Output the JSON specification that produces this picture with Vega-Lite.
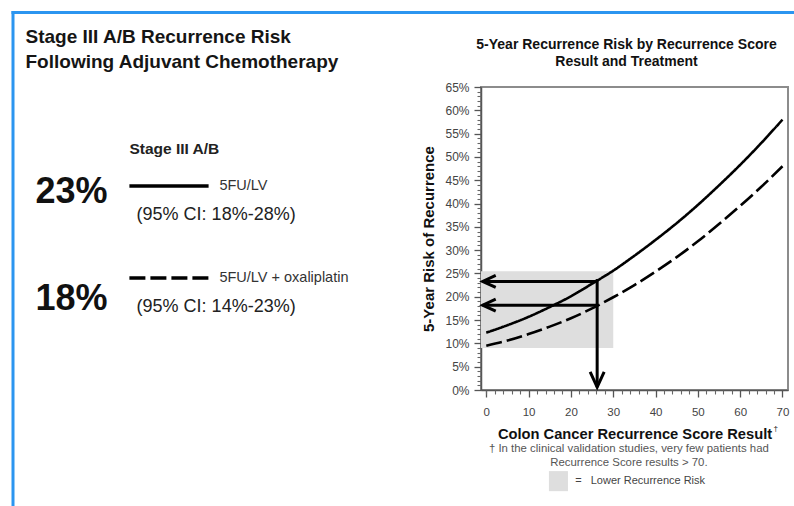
{
  "$schema": "https://vega.github.io/schema/vega-lite/v6.json",
  "background": "white",
  "padding": {"left": 10, "top": 9, "right": 0, "bottom": 0},
  "autosize": {"type": "pad"},
  "bounds": "flush",
  "spacing": 68,
  "config": {
    "font": "Liberation Sans",
    "view": {"stroke": null},
    "axis": {"labelFont": "Liberation Sans", "titleFont": "Liberation Sans"},
    "title": {"font": "Liberation Sans"}
  },
  "datasets": {
    "frame": [
      {"x1": -0.375, "x2": 195.625, "y1": -24.59, "y2": -24.59},
      {"x1": 0, "x2": 0, "y1": -25.08, "y2": 138.95}
    ],
    "panelText": [
      {"role": "heading", "label": "Stage III A/B Recurrence Risk", "x": 3.125, "y": -16.5},
      {"role": "heading", "label": "Following Adjuvant Chemotherapy", "x": 3.125, "y": -8.25},
      {"role": "group", "label": "Stage III A/B", "x": 29.1, "y": 20.46},
      {"role": "risk", "label": "23%", "x": 5.6, "y": 34.65},
      {"role": "risk", "label": "18%", "x": 5.6, "y": 69.97},
      {"role": "arm", "label": "5FU/LV", "x": 51.6, "y": 32.67},
      {"role": "arm", "label": "5FU/LV + oxaliplatin", "x": 51.6, "y": 63.04},
      {"role": "ci", "label": "(95% CI: 18%-28%)", "x": 30.9, "y": 42.24},
      {"role": "ci", "label": "(95% CI: 14%-23%)", "x": 30.9, "y": 72.6}
    ],
    "keyLines": [
      {"treatment": "5FU/LV", "x1": 29.1, "x2": 48.9, "y": 32.67},
      {"treatment": "5FU/LV + oxaliplatin", "x1": 29.1, "x2": 48.9, "y": 63.04}
    ],
    "curves": [
      {"treatment": "5FU/LV", "score": 0, "risk": 12.3},
      {"treatment": "5FU/LV", "score": 5, "risk": 13.9},
      {"treatment": "5FU/LV", "score": 10, "risk": 15.7},
      {"treatment": "5FU/LV", "score": 15, "risk": 17.8},
      {"treatment": "5FU/LV", "score": 20, "risk": 20.1},
      {"treatment": "5FU/LV", "score": 25, "risk": 22.8},
      {"treatment": "5FU/LV", "score": 30, "risk": 25.6},
      {"treatment": "5FU/LV", "score": 35, "risk": 28.8},
      {"treatment": "5FU/LV", "score": 40, "risk": 32.2},
      {"treatment": "5FU/LV", "score": 45, "risk": 35.8},
      {"treatment": "5FU/LV", "score": 50, "risk": 39.7},
      {"treatment": "5FU/LV", "score": 55, "risk": 43.9},
      {"treatment": "5FU/LV", "score": 60, "risk": 48.3},
      {"treatment": "5FU/LV", "score": 65, "risk": 53.0},
      {"treatment": "5FU/LV", "score": 70, "risk": 58.0},
      {"treatment": "5FU/LV + oxaliplatin", "score": 0, "risk": 9.5},
      {"treatment": "5FU/LV + oxaliplatin", "score": 5, "risk": 10.6},
      {"treatment": "5FU/LV + oxaliplatin", "score": 10, "risk": 12.0},
      {"treatment": "5FU/LV + oxaliplatin", "score": 15, "risk": 13.6},
      {"treatment": "5FU/LV + oxaliplatin", "score": 20, "risk": 15.4},
      {"treatment": "5FU/LV + oxaliplatin", "score": 25, "risk": 17.5},
      {"treatment": "5FU/LV + oxaliplatin", "score": 30, "risk": 19.9},
      {"treatment": "5FU/LV + oxaliplatin", "score": 35, "risk": 22.5},
      {"treatment": "5FU/LV + oxaliplatin", "score": 40, "risk": 25.4},
      {"treatment": "5FU/LV + oxaliplatin", "score": 45, "risk": 28.5},
      {"treatment": "5FU/LV + oxaliplatin", "score": 50, "risk": 31.9},
      {"treatment": "5FU/LV + oxaliplatin", "score": 55, "risk": 35.6},
      {"treatment": "5FU/LV + oxaliplatin", "score": 60, "risk": 39.5},
      {"treatment": "5FU/LV + oxaliplatin", "score": 65, "risk": 43.6},
      {"treatment": "5FU/LV + oxaliplatin", "score": 70, "risk": 48.0}
    ],
    "shade": [
      {"x0": -1.25, "x1": 30, "y0": 9, "y1": 25.5},
      {"x0": 14.8, "x1": 19.3, "y0": -21.7, "y1": -17.4}
    ],
    "arrows": [
      {"x1": 26.2, "x2": 26.2, "y1": 23.8, "y2": 0.6},
      {"x1": 26.2, "x2": -0.85, "y1": 23.3, "y2": 23.3},
      {"x1": 26.2, "x2": -0.85, "y1": 18.2, "y2": 18.2}
    ],
    "heads": [
      {"dir": "down", "x": 26.2, "y": 0.6},
      {"dir": "left", "x": -0.85, "y": 23.3},
      {"dir": "left", "x": -0.85, "y": 18.2}
    ],
    "notes": [
      {"role": "dagger", "label": "†", "x": 67.9, "y": -8.4},
      {"role": "foot", "label": "† In the clinical validation studies, very few patients had", "x": 33.7, "y": -12.7},
      {"role": "foot", "label": "Recurrence Score results > 70.", "x": 33.7, "y": -15.6},
      {"role": "key", "label": "=\u00a0\u00a0 Lower Recurrence Risk", "x": 21.0, "y": -19.5}
    ]
  },
  "hconcat": [
    {
      "width": 400,
      "height": 303,
      "layer": [
        {
          "data": {"name": "frame"},
          "mark": {"type": "rule", "stroke": "#2b95f0", "strokeWidth": 3, "strokeCap": "butt"},
          "encoding": {
            "x": {"field": "x1", "type": "quantitative", "scale": {"domain": [0, 100], "nice": false, "zero": false}, "axis": null},
            "x2": {"field": "x2"},
            "y": {"field": "y1", "type": "quantitative", "scale": {"domain": [0, 100], "nice": false, "zero": false, "reverse": true}, "axis": null},
            "y2": {"field": "y2"}
          }
        },
        {
          "data": {"name": "keyLines"},
          "mark": {"type": "rule", "stroke": "#000", "strokeWidth": 3.5, "strokeCap": "butt"},
          "encoding": {
            "x": {"field": "x1", "type": "quantitative", "axis": null},
            "x2": {"field": "x2"},
            "y": {"field": "y", "type": "quantitative", "axis": null},
            "strokeDash": {"field": "treatment", "type": "nominal", "scale": {"domain": ["5FU/LV", "5FU/LV + oxaliplatin"], "range": [[1, 0], [16, 5]]}, "legend": null}
          }
        },
        {
          "data": {"name": "panelText"},
          "transform": [{"filter": "datum.role === 'heading'"}],
          "mark": {"type": "text", "align": "left", "baseline": "middle", "fontSize": 19, "fontWeight": "bold", "color": "#151515"},
          "encoding": {
            "x": {"field": "x", "type": "quantitative", "axis": null},
            "y": {"field": "y", "type": "quantitative", "axis": null},
            "text": {"field": "label"}
          }
        },
        {
          "data": {"name": "panelText"},
          "transform": [{"filter": "datum.role === 'group'"}],
          "mark": {"type": "text", "align": "left", "baseline": "middle", "fontSize": 15.5, "fontWeight": "bold", "color": "#222"},
          "encoding": {
            "x": {"field": "x", "type": "quantitative", "axis": null},
            "y": {"field": "y", "type": "quantitative", "axis": null},
            "text": {"field": "label"}
          }
        },
        {
          "data": {"name": "panelText"},
          "transform": [{"filter": "datum.role === 'risk'"}],
          "mark": {"type": "text", "align": "left", "baseline": "middle", "fontSize": 36, "fontWeight": "bold", "color": "#111"},
          "encoding": {
            "x": {"field": "x", "type": "quantitative", "axis": null},
            "y": {"field": "y", "type": "quantitative", "axis": null},
            "text": {"field": "label"}
          }
        },
        {
          "data": {"name": "panelText"},
          "transform": [{"filter": "datum.role === 'arm'"}],
          "mark": {"type": "text", "align": "left", "baseline": "middle", "fontSize": 14.5, "color": "#333"},
          "encoding": {
            "x": {"field": "x", "type": "quantitative", "axis": null},
            "y": {"field": "y", "type": "quantitative", "axis": null},
            "text": {"field": "label"}
          }
        },
        {
          "data": {"name": "panelText"},
          "transform": [{"filter": "datum.role === 'ci'"}],
          "mark": {"type": "text", "align": "left", "baseline": "middle", "fontSize": 18, "color": "#222"},
          "encoding": {
            "x": {"field": "x", "type": "quantitative", "axis": null},
            "y": {"field": "y", "type": "quantitative", "axis": null},
            "text": {"field": "label"}
          }
        }
      ]
    },
    {
      "width": 307,
      "height": 303,
      "view": {"stroke": "#8c8c8c", "strokeWidth": 2},
      "title": {
        "text": ["5-Year Recurrence Risk by Recurrence Score", "Result and Treatment"],
        "fontSize": 14,
        "fontWeight": "bold",
        "color": "#111",
        "anchor": "middle",
        "frame": "group",
        "offset": 12,
        "lineHeight": 17,
        "dx": -8
      },
      "resolve": {"axis": {"x": "independent", "y": "independent"}},
      "layer": [
        {
          "data": {"name": "shade"},
          "mark": {"type": "rect", "fill": "#dedede"},
          "encoding": {
            "x": {"field": "x0", "type": "quantitative", "axis": null},
            "x2": {"field": "x1"},
            "y": {"field": "y0", "type": "quantitative", "axis": null},
            "y2": {"field": "y1"}
          }
        },
        {
          "data": {"name": "curves"},
          "mark": {"type": "line", "stroke": "#000", "strokeWidth": 2.6, "interpolate": "monotone"},
          "encoding": {
            "x": {
              "field": "score", "type": "quantitative",
              "scale": {"domain": [-1.25, 71.3], "nice": false, "zero": false},
              "axis": {
                "orient": "bottom", "values": [0, 10, 20, 30, 40, 50, 60, 70],
                "grid": false, "tickSize": 7, "tickWidth": 1.3, "tickColor": "#555",
                "domainColor": "#555", "domainWidth": 1.5,
                "labelFontSize": 11.5, "labelColor": "#444", "labelPadding": 9, "labelFlush": false,
                "title": "Colon Cancer Recurrence Score Result", "titleFontSize": 14.7, "titleFontWeight": "bold",
                "titleColor": "#111", "titlePadding": 9
              }
            },
            "y": {
              "field": "risk", "type": "quantitative",
              "scale": {"domain": [0, 65], "nice": false, "zero": true},
              "axis": {
                "orient": "left", "values": [0, 5, 10, 15, 20, 25, 30, 35, 40, 45, 50, 55, 60, 65],
                "labelExpr": "datum.value + '%'",
                "grid": false, "tickSize": 7, "tickWidth": 1.3, "tickColor": "#555",
                "domainColor": "#555", "domainWidth": 1.5,
                "labelFontSize": 12, "labelColor": "#444", "labelPadding": 5,
                "title": "5-Year Risk of Recurrence", "titleFontSize": 15, "titleFontWeight": "bold",
                "titleColor": "#111", "titlePadding": 8
              }
            },
            "strokeDash": {"field": "treatment", "type": "nominal", "scale": {"domain": ["5FU/LV", "5FU/LV + oxaliplatin"], "range": [[1, 0], [10, 6]]}, "legend": null}
          }
        },
        {
          "data": {"name": "arrows"},
          "mark": {"type": "rule", "stroke": "#000", "strokeWidth": 3, "strokeCap": "butt"},
          "encoding": {
            "x": {
              "field": "x1", "type": "quantitative",
              "axis": {
                "orient": "bottom", "values": [0, 2, 4, 6, 8, 12, 14, 16, 18, 22, 24, 26, 28, 32, 34, 36, 38, 42, 44, 46, 48, 52, 54, 56, 58, 62, 64, 66, 68],
                "grid": false, "domain": false, "labels": false, "title": null,
                "tickSize": 4, "tickWidth": 1.1, "tickColor": "#666"
              }
            },
            "x2": {"field": "x2"},
            "y": {
              "field": "y1", "type": "quantitative",
              "axis": {
                "orient": "left", "values": [1, 2, 3, 4, 6, 7, 8, 9, 11, 12, 13, 14, 16, 17, 18, 19, 21, 22, 23, 24, 26, 27, 28, 29, 31, 32, 33, 34, 36, 37, 38, 39, 41, 42, 43, 44, 46, 47, 48, 49, 51, 52, 53, 54, 56, 57, 58, 59, 61, 62, 63, 64],
                "grid": false, "domain": false, "labels": false, "title": null,
                "tickSize": 4, "tickWidth": 1.1, "tickColor": "#666"
              }
            },
            "y2": {"field": "y2"}
          }
        },
        {
          "data": {"name": "heads"},
          "mark": {"type": "point", "filled": false, "stroke": "#000", "strokeWidth": 3, "opacity": 1, "size": 784, "strokeJoin": "miter"},
          "encoding": {
            "x": {"field": "x", "type": "quantitative", "axis": null},
            "y": {"field": "y", "type": "quantitative", "axis": null},
            "shape": {"field": "dir", "type": "nominal", "scale": {"domain": ["left", "down"], "range": ["M 0.93 -0.43 L 0 0 L 0.93 0.43", "M -0.5 -1.1 L 0 0 L 0.5 -1.1"]}, "legend": null}
          }
        },
        {
          "data": {"name": "notes"},
          "transform": [{"filter": "datum.role === 'dagger'"}],
          "mark": {"type": "text", "align": "left", "baseline": "middle", "fontSize": 8, "color": "#111"},
          "encoding": {
            "x": {"field": "x", "type": "quantitative", "axis": null},
            "y": {"field": "y", "type": "quantitative", "axis": null},
            "text": {"field": "label"}
          }
        },
        {
          "data": {"name": "notes"},
          "transform": [{"filter": "datum.role === 'foot'"}],
          "mark": {"type": "text", "align": "center", "baseline": "middle", "fontSize": 11.4, "color": "#555"},
          "encoding": {
            "x": {"field": "x", "type": "quantitative", "axis": null},
            "y": {"field": "y", "type": "quantitative", "axis": null},
            "text": {"field": "label"}
          }
        },
        {
          "data": {"name": "notes"},
          "transform": [{"filter": "datum.role === 'key'"}],
          "mark": {"type": "text", "align": "left", "baseline": "middle", "fontSize": 11, "color": "#444"},
          "encoding": {
            "x": {"field": "x", "type": "quantitative", "axis": null},
            "y": {"field": "y", "type": "quantitative", "axis": null},
            "text": {"field": "label"}
          }
        }
      ]
    }
  ]
}
